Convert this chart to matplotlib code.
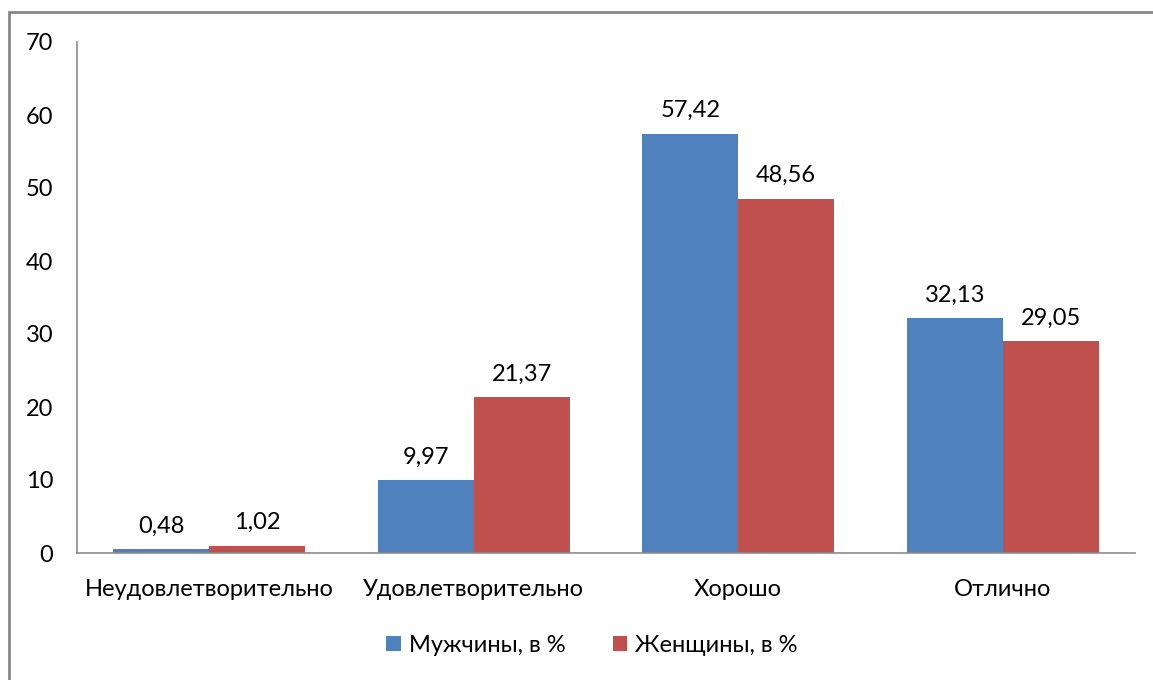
import numpy as np
import matplotlib.pyplot as plt
from matplotlib.patches import Rectangle

plt.rcParams['font.family'] = ['Lato', 'DejaVu Sans']

categories = ['Неудовлетворительно', 'Удовлетворительно', 'Хорошо', 'Отлично']
men = [0.48, 9.97, 57.42, 32.13]
women = [1.02, 21.37, 48.56, 29.05]
labels_men = ['0,48', '9,97', '57,42', '32,13']
labels_women = ['1,02', '21,37', '48,56', '29,05']

fig = plt.figure(figsize=(11.53, 6.80), dpi=100)
# рамка диаграммы (правая и нижняя стороны обрезаны)
fig.patches.append(Rectangle((9 / 1153, -0.1), 1.2, 1 - 12 / 680 + 0.1,
                             transform=fig.transFigure, fill=False,
                             edgecolor='#878787', linewidth=2))

ax = fig.add_axes([77 / 1153, 1 - 553 / 680, (1135 - 77) / 1153, (553 - 42) / 680])

x = np.arange(len(categories))
w = 0.363
b1 = ax.bar(x - w / 2, men, w, color='#4F81BD', label='Мужчины, в %')
b2 = ax.bar(x + w / 2, women, w, color='#C0504D', label='Женщины, в %')

for rect, txt in zip(b1, labels_men):
    ax.annotate(txt, (rect.get_x() + rect.get_width() / 2, rect.get_height()),
                xytext=(0, 9), textcoords='offset points', ha='center', va='bottom', fontsize=17)
for rect, txt in zip(b2, labels_women):
    ax.annotate(txt, (rect.get_x() + rect.get_width() / 2, rect.get_height()),
                xytext=(0, 9), textcoords='offset points', ha='center', va='bottom', fontsize=17)

ax.set_xlim(-0.5, 3.5)
ax.set_ylim(0, 70)
ax.set_yticks(range(0, 71, 10))
ax.set_xticks(x)
ax.set_xticklabels(categories, fontsize=17)
ax.tick_params(axis='y', length=0, pad=17, labelsize=17)
ax.tick_params(axis='x', length=0, pad=19)
for s in ['top', 'right']:
    ax.spines[s].set_visible(False)
for s in ['left', 'bottom']:
    ax.spines[s].set_color('#8C8C8C')
    ax.spines[s].set_linewidth(1.2)

fig.legend(loc='center', bbox_to_anchor=(592 / 1153, 1 - 645 / 680), ncol=2, frameon=False,
           fontsize=17, handlelength=0.6, handleheight=0.6, handletextpad=0.35, columnspacing=2.0)

fig.savefig('out.png', dpi=100)
